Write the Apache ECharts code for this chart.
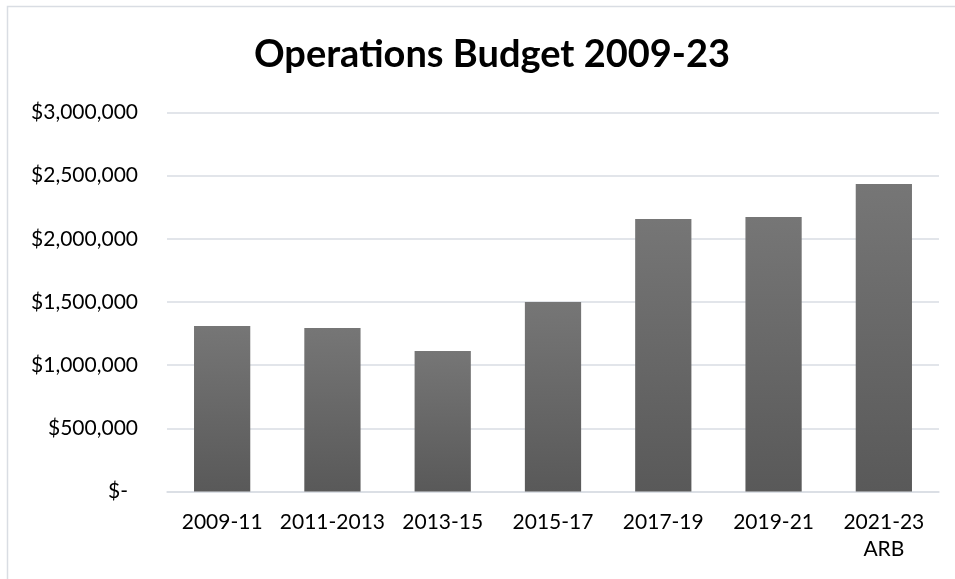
<!DOCTYPE html>
<html>
<head>
<meta charset="utf-8">
<script src="https://cdn.jsdelivr.net/npm/echarts@6/dist/echarts.min.js"></script>
<style>
  html, body { margin: 0; padding: 0; background: #ffffff; }
  #chart { width: 955px; height: 579px; }
</style>
</head>
<body>
<div id="chart"></div>
<script>
// Biennial operations budget, in dollars
const periods = ['2009-11', '2011-2013', '2013-15', '2015-17', '2017-19', '2019-21', '2021-23\nARB'];
const budget = [1310000, 1294000, 1112000, 1500000, 2157000, 2173000, 2434000];
const axisMax = 3000000;
const axisStep = 500000;

const font = 'Lato, "Open Sans", sans-serif';

function money(v) {
  if (v === 0) return '{z|$-}';
  return '$' + v.toLocaleString('en-US');
}

const chart = echarts.init(document.getElementById('chart'), null, { renderer: 'canvas' });

chart.setOption({
  backgroundColor: '#ffffff',
  animation: false,
  title: {
    // zero-width non-joiner keeps "t" and "i" as separate glyphs
    text: 'Opera\u200Ctions Budget 2009-23',
    left: 487,
    top: 31,
    textAlign: 'center',
    textStyle: {
      fontFamily: font,
      fontWeight: 'bold',
      fontSize: 38,
      color: '#000000'
    }
  },
  graphic: [{
    type: 'rect',
    silent: true,
    shape: { x: 7.5, y: 6.5, width: 1000, height: 1000 },
    style: { fill: 'none', stroke: '#d9dde3', lineWidth: 1.5 }
  }],
  grid: {
    left: 167,
    right: 16,
    top: 112.5,
    bottom: 87.5,
    containLabel: false
  },
  xAxis: {
    type: 'category',
    data: periods,
    axisLine: { show: true, lineStyle: { color: '#d9dde3', width: 1.5 } },
    axisTick: { show: false },
    axisLabel: {
      fontFamily: font,
      fontSize: 21,
      color: '#000000',
      margin: 17,
      lineHeight: 27,
      interval: 0
    }
  },
  yAxis: {
    type: 'value',
    min: 0,
    max: axisMax,
    interval: axisStep,
    axisLine: { show: false },
    axisTick: { show: false },
    splitLine: { lineStyle: { color: '#d9dde3', width: 1.5 } },
    axisLabel: {
      fontFamily: font,
      fontSize: 21,
      color: '#000000',
      margin: 29,
      formatter: money,
      rich: {
        z: { fontFamily: font, fontSize: 21, color: '#000000', padding: [0, 10, 0, 0] }
      }
    }
  },
  series: [{
    type: 'bar',
    data: budget,
    barCategoryGap: '49%',
    itemStyle: {
      color: new echarts.graphic.LinearGradient(0, 0, 0, 1, [
        { offset: 0, color: '#767676' },
        { offset: 1, color: '#595959' }
      ])
    }
  }]
});
</script>
</body>
</html>
